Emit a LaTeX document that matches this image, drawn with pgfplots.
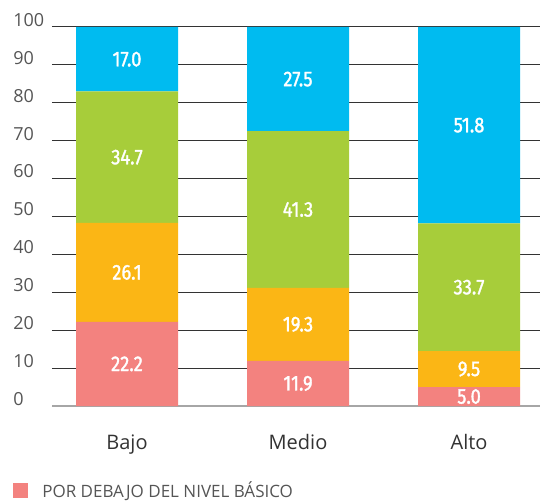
\documentclass[border=0pt]{standalone}
\usepackage{pgfplots}
\pgfplotsset{compat=1.18}
\usepackage{fontspec}
\setmainfont{Open Sans}
\newfontfamily\barfont[FakeStretch=0.86, FakeBold=1.5]{Fira Sans}
\definecolor{cpink}{HTML}{F3827F}
\definecolor{corange}{HTML}{FBB615}
\definecolor{cgreen}{HTML}{A7CD3A}
\definecolor{cblue}{HTML}{00BBF0}
\definecolor{gridc}{HTML}{333333}
\definecolor{txt}{HTML}{555555}
\begin{document}
\begin{tikzpicture}
\useasboundingbox (0,0) rectangle (405pt,375.75pt);
\pgfplotsset{common/.style={scale only axis, width=366pt, height=284.25pt,
  xmin=-0.4386, xmax=2.415, ymin=0, ymax=100, at={(39pt,71.25pt)}, anchor=south west}}
\begin{axis}[common, ybar stacked, bar width=0.5965,
  /pgf/number format/assume math mode=true,
  ytick={0,10,...,100}, xtick={0,1,2}, xticklabels={Bajo,Medio,Alto},
  ymajorgrids, grid style={color=gridc, line width=0.75pt},
  axis x line*=bottom, axis y line*=left,
  y axis line style={draw=none}, x axis line style={color=gray!70, line width=1.2pt},
  major tick length=0pt,
  yticklabel style={anchor=base west, inner sep=0pt, xshift=-29.25pt, yshift=0.5pt,
    font=\fontsize{13.5}{16}\selectfont, text=txt},
  xticklabel style={anchor=base, inner sep=0pt, yshift=-32.25pt,
    font=\fontsize{15}{18}\selectfont, text=gridc},
  legend entries={POR DEBAJO DEL NIVEL BÁSICO},
  legend style={at={(axis description cs:-0.0799,-0.222)}, anchor=west, draw=none, fill=none,
    inner sep=0pt, font=\fontsize{12.75}{15}\selectfont, text=txt,
    nodes={inner sep=0pt},
    /tikz/every odd column/.style={column sep=10.5pt}},
  legend cell align=left,
  legend image code/.code={\fill[#1] (0pt,-5.625pt) rectangle (11.25pt,5.625pt);},
]
\addplot[fill=cpink, draw=none] coordinates {(0,22.2) (1,11.9) (2,5.0)};
\addplot[fill=corange, draw=none] coordinates {(0,26.1) (1,19.3) (2,9.5)};
\addplot[fill=cgreen, draw=none] coordinates {(0,34.7) (1,41.3) (2,33.7)};
\addplot[fill=cblue, draw=none] coordinates {(0,17.0) (1,27.5) (2,51.8)};
\end{axis}
\begin{axis}[common, hide axis]
\addplot[only marks, mark=none, point meta=explicit symbolic, nodes near coords,
  every node near coord/.style={anchor=center, text=white, font=\barfont\fontsize{16}{19}\selectfont}]
  coordinates {
  (0,11.1) [22.2] (0,35.25) [26.1] (0,65.65) [34.7] (0,91.5) [17.0]
  (1,5.95) [11.9] (1,21.55) [19.3] (1,51.85) [41.3] (1,86.25) [27.5]
  (2,2.5) [5.0] (2,9.75) [9.5] (2,31.35) [33.7] (2,74.1) [51.8]
  };
\end{axis}
\end{tikzpicture}
\end{document}
